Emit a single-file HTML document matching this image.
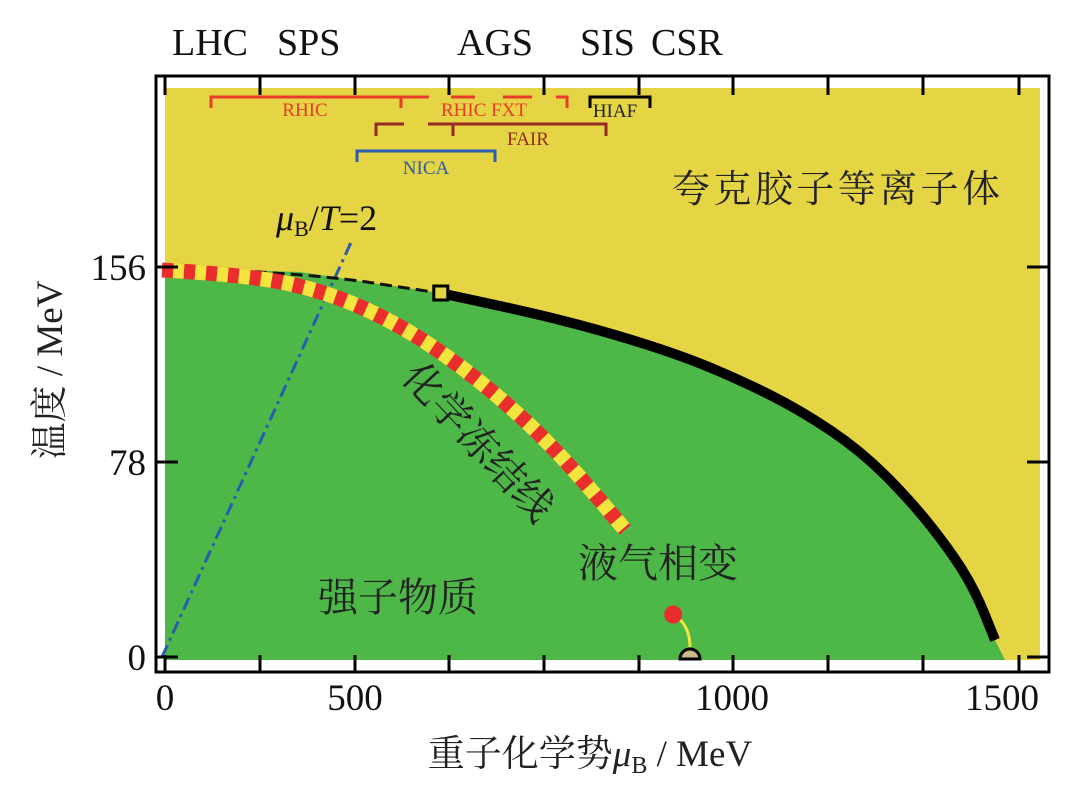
<!DOCTYPE html>
<html><head><meta charset="utf-8"><style>
body{margin:0;background:#fff;}
svg{display:block;}
text{font-family:"Liberation Serif","Noto Serif CJK SC",serif;}
.cjk{font-family:"Liberation Serif","Noto Serif CJK SC","Noto Sans CJK SC",serif;fill:#222;}
</style></head><body>
<svg id="chart" width="1080" height="806" viewBox="0 0 1080 806">
<g id="marks"></g>
<g id="overlay"></g>
</svg>
<script>
// data (mu_B in MeV, T in MeV)
const crossoverMu = [5, 247, 497];
const crossoverT = [155.6, 154, 145.6];
const transitionMu = [497, 641, 784, 927, 1035, 1142, 1249, 1339, 1410, 1455, 1491];
const transitionT = [145.6, 138.8, 130.8, 120.8, 110.8, 98.8, 82.8, 62.8, 42.8, 26.8, 6.8];
const freezeMu = [0, 158, 301, 426, 533, 641, 730, 829];
const freezeT = [154.8, 152.8, 145.6, 132.8, 116.8, 96.8, 76.8, 50.8];
const criticalPoint = [499, 145.6];
const liquidGasCP = [915, 17];
const nuclearMatter = [945, 0];
const muOverT = [2];
const yTicks = [0, 78, 156];
const xTickLabels = ["0", "500", "1000", "1500"];
const topLabels = ["LHC", "SPS", "AGS", "SIS", "CSR"];

const X = mu => 162 + mu * 0.5587;
const Y = t => 657 - t * 2.5;
const NS = "http://www.w3.org/2000/svg";
const marks = document.getElementById('marks');
const ov = document.getElementById('overlay');
function mk(tag, attrs, parent, txt){
  const e = document.createElementNS(NS, tag);
  for (const k in attrs) e.setAttribute(k, attrs[k]);
  if (txt !== undefined) e.textContent = txt;
  (parent || marks).appendChild(e);
  return e;
}
function smooth(ms, ts){
  const p = ms.map((m,i)=>[X(m), Y(ts[i])]);
  let d = `M${p[0][0]},${p[0][1]}`;
  for (let i=1;i<p.length-1;i++){
    const mx=(p[i][0]+p[i+1][0])/2, my=(p[i][1]+p[i+1][1])/2;
    d += ` Q${p[i][0]},${p[i][1]} ${mx},${my}`;
  }
  const l=p[p.length-1];
  d += ` L${l[0]},${l[1]}`;
  return d;
}

let e;
e = mk('rect',{x:165,y:88,width:875,height:572,fill:'#e5d444'});



const tl = smooth(transitionMu, transitionT);
const cx0 = X(crossoverMu[0]), cy0 = Y(crossoverT[0]);
let gd = `M165,${cy0} L${X(crossoverMu[1])},${Y(crossoverT[1])} L${X(crossoverMu[2])},${Y(crossoverT[2])} ` + tl.replace(/^M/,'L') +
  ` L${X(transitionMu[transitionMu.length-1])+10},660 L165,660 Z`;
e = mk('path',{d:gd,fill:'#4db848'});



const tEnd = 167;
e = mk('line',{x1:X(0),y1:Y(0),x2:X(muOverT[0]*tEnd*1.02),y2:Y(tEnd),stroke:'#2a5cb0','stroke-width':3,'stroke-dasharray':'13 5 3 5'});



e = mk('path',{d:smooth(crossoverMu,crossoverT),fill:'none',stroke:'#111','stroke-width':3,'stroke-dasharray':'12 6'});



e = mk('path',{d:tl,fill:'none',stroke:'#000','stroke-width':10,'stroke-linejoin':'round'});



const fd = smooth(freezeMu,freezeT);
e = mk('path',{d:fd,fill:'none',stroke:'#ea2e2e','stroke-width':15});


e = mk('path',{d:fd,fill:'none',stroke:'#f2e63e','stroke-width':15,'stroke-dasharray':'11 11','stroke-dashoffset':11});



e = mk('rect',{x:X(criticalPoint[0])-7,y:Y(criticalPoint[1])-7,width:14,height:14,fill:'#e5d444',stroke:'#000','stroke-width':3});



const lx=X(liquidGasCP[0]), ly=Y(liquidGasCP[1]), nx=X(nuclearMatter[0]), ny=Y(nuclearMatter[1]);
e = mk('path',{d:`M${lx},${ly} Q${nx},${ly+10} ${nx},${ny-10}`,fill:'none',stroke:'#f2e63e','stroke-width':3});


e = mk('circle',{cx:lx,cy:ly,r:9,fill:'#ea2e2e'});


e = mk('path',{d:`M${nx-10},${ny+2} A10 10 0 0 1 ${nx+10},${ny+2} Z`,fill:'#c9b98a',stroke:'#000','stroke-width':3});



e = mk('rect',{x:156,y:76,width:893,height:596,fill:'none',stroke:'#000','stroke-width':3},ov);


const tickPx=[165,260,355,449,544,639,733,828,923,1019];
tickPx.forEach(px=>{
  mk('line',{x1:px,y1:672,x2:px,y2:655,stroke:'#000','stroke-width':3},ov);
  mk('line',{x1:px,y1:76,x2:px,y2:95,stroke:'#000','stroke-width':3},ov);
});
yTicks.forEach(t=>{
  mk('line',{x1:156,y1:Y(t),x2:178,y2:Y(t),stroke:'#000','stroke-width':3},ov);
  mk('line',{x1:1027,y1:Y(t),x2:1049,y2:Y(t),stroke:'#000','stroke-width':3},ov);
  const l = mk('text',{x:146,y:Y(t)+13,'font-size':37,'text-anchor':'end',fill:'#111'},ov,String(t));
  
  
});
const xLabelPos=[165,355,732,1002];
xTickLabels.forEach((s,i)=>{
  const l = mk('text',{x:xLabelPos[i],y:710,'font-size':37,'text-anchor':'middle',fill:'#111'},ov,s);
  
  
});
const topPos=[172,277,457,580,651];
topLabels.forEach((s,i)=>{
  const l = mk('text',{x:topPos[i],y:55,'font-size':38,fill:'#111'},ov,s);
  
  
});
</script>
<svg width="1080" height="806" style="position:absolute;left:0;top:0">
 <g fill="none" stroke-width="3">
  <path d="M211,108 V97 H429 M401,97 V108 M451,97 H475 M503,97 H532 M556,97 H567 V108" stroke="#ea3a2a"/>
  <path d="M376,136 V124 H404 M428,124 H606 V136 M453,124 V136" stroke="#962a24"/>
  <path d="M357,162 V151 H495 V162" stroke="#2a5cb0"/>
  <path d="M590,108 V97 H650 V108" stroke="#000"/>
 </g>
 <text x="305" y="116" font-size="19" fill="#ea3a2a" text-anchor="middle">RHIC</text>
 <text x="484" y="116" font-size="19" fill="#ea3a2a" text-anchor="middle">RHIC FXT</text>
 <text x="528" y="145" font-size="19" fill="#962a24" text-anchor="middle">FAIR</text>
 <text x="426" y="174" font-size="19" fill="#2a5cb0" text-anchor="middle">NICA</text>
 <text x="615" y="117" font-size="19" fill="#222" text-anchor="middle">HIAF</text>
 <text x="276" y="230" font-size="36" fill="#111"><tspan font-style="italic">μ</tspan><tspan font-size="22" dy="6">B</tspan><tspan dy="-6">/</tspan><tspan font-style="italic">T</tspan>=2</text>
 <text class="cjk" x="672" y="202" font-size="38" textLength="328">夸克胶子等离子体</text>
 <text class="cjk" x="0" y="0" font-size="40" transform="translate(400,378) rotate(47)">化学冻结线</text>
 <text class="cjk" x="578" y="577" font-size="40">液气相变</text>
 <text class="cjk" x="318" y="611" font-size="40">强子物质</text>
 <text class="cjk" x="0" y="0" font-size="37" text-anchor="middle" transform="translate(62,370) rotate(-90)">温度 / MeV</text>
 <text class="cjk" x="590" y="766" font-size="37" text-anchor="middle">重子化学势<tspan font-style="italic">μ</tspan><tspan font-size="24" dy="7">B</tspan><tspan dy="-7"> / MeV</tspan></text>
</svg>
</body></html>
